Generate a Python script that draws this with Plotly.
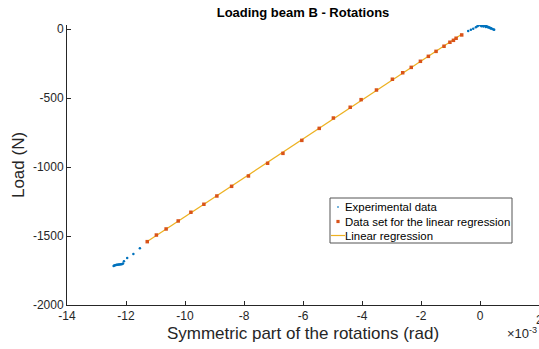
import numpy as np
import plotly.graph_objects as go

# Experimental data (rotation in 1e-3 rad, load in N)
exp_low_x = [-12.42, -12.40, -12.37, -12.34, -12.31, -12.28, -12.25, -12.22, -12.19, -12.16, -12.13, -12.10,
             -12.07, -11.96, -11.75, -11.53]
exp_low_y = [-1718, -1714, -1712, -1710, -1709, -1708, -1707, -1706, -1705, -1704, -1702, -1700,
             -1683, -1659, -1630, -1589]
exp_high_x = [-0.40, -0.31, -0.23, -0.14, -0.09, -0.05, 0.00, 0.03, 0.06, 0.10, 0.14, 0.18, 0.22, 0.26,
              0.30, 0.34, 0.38, 0.42, 0.46, 0.48, 0.05, 0.12, 0.20, 0.28, 0.36]
exp_high_y = [-14, -5, 2, 12, 20, 25, 30, 28, 24, 24, 25, 23, 20, 17, 13, 9, 5, 0, -3, -6, 20, 18, 15, 10, 3]

# Data set used for the linear regression
reg_x = [-11.28, -10.97, -10.64, -10.23, -9.80, -9.36, -8.92, -8.42, -7.85, -7.20, -6.68, -6.04, -5.45,
         -4.97, -4.40, -4.03, -3.51, -2.97, -2.62, -2.33, -2.02, -1.75, -1.49, -1.22, -1.02, -0.90,
         -0.81, -0.62]
reg_y = [-1541, -1493, -1449, -1391, -1328, -1270, -1210, -1140, -1065, -973, -901, -807, -720,
         -645, -567, -512, -442, -364, -317, -278, -234, -198, -162, -125, -96, -82, -67, -43]

x_ticks = [-14, -12, -10, -8, -6, -4, -2, 0, 2]
y_ticks = [-2000, -1500, -1000, -500, 0]
legend_labels = ["Experimental data", "Data set for the linear regression", "Linear regression"]

exp_x = exp_low_x + exp_high_x
exp_y = exp_low_y + exp_high_y

coef = np.polyfit(reg_x, reg_y, 1)
fit_x = [min(reg_x), max(reg_x)]
fit_y = list(np.polyval(coef, fit_x))

FONT = "Liberation Sans, Arial, sans-serif"
AX = "#262626"
BLUE, ORANGE, YELLOW = "#0072BD", "#D95319", "#EDB120"

W, H = 539, 349
L, R, T, B = 67, 0, 25, 44
PW, PH = W - L - R, H - T - B


def px2paper(px, py):
    return (px - L) / PW, (H - B - py) / PH


fig = go.Figure()
fig.add_trace(go.Scatter(x=exp_x, y=exp_y, mode="markers", name=legend_labels[0],
                         marker=dict(color=BLUE, size=2.5), showlegend=False))
fig.add_trace(go.Scatter(x=fit_x, y=fit_y, mode="lines", name=legend_labels[2],
                         line=dict(color=YELLOW, width=1.2), showlegend=False))
fig.add_trace(go.Scatter(x=reg_x, y=reg_y, mode="markers", name=legend_labels[1],
                         marker=dict(color=ORANGE, size=3.5, symbol="square"), showlegend=False))

fig.update_layout(
    width=W, height=H,
    margin=dict(l=L, r=R, t=T, b=B),
    paper_bgcolor="white", plot_bgcolor="white",
    font=dict(family=FONT, color=AX, size=12),
    title=dict(text="<b>Loading beam B - Rotations</b>", x=(L + W) / 2 / W, xanchor="center",
               y=1 - 12 / H, yanchor="middle", font=dict(size=13, color="#000000")),
    xaxis=dict(range=[-14, 2], tickvals=x_ticks, ticktext=[str(v) for v in x_ticks],
               showgrid=False, zeroline=False, showline=True, linecolor=AX, linewidth=1,
               ticks="inside", ticklen=4, tickcolor=AX, mirror=False, automargin=False,
               title=dict(text="Symmetric part of the rotations (rad)", font=dict(size=17), standoff=4),
               tickfont=dict(size=12)),
    yaxis=dict(range=[-2000, 29], tickvals=y_ticks, ticktext=[str(v) for v in y_ticks],
               showgrid=False, zeroline=False, showline=True, linecolor=AX, linewidth=1,
               ticks="inside", ticklen=4, tickcolor=AX, mirror=False, automargin=False,
               title=dict(text="Load (N)", font=dict(size=17), standoff=3),
               tickfont=dict(size=12)),
    showlegend=False,
)

# Tick label "2" at the right edge (plotly drops it because it overflows)
fig.add_annotation(text=str(x_ticks[-1]), xref="x", x=x_ticks[-1], yref="paper", y=px2paper(0, 311)[1],
                   xanchor="center", yanchor="top", showarrow=False, font=dict(size=12, color=AX))
# exponent label
fig.add_annotation(text="×10<sup>-3</sup>", xref="paper", yref="paper", x=1.0, y=px2paper(0, 333)[1],
                   xanchor="right", yanchor="middle", showarrow=False, font=dict(size=13, color=AX))

# Custom legend (matches MATLAB layout)
x0, y0 = px2paper(330, 198)
x1, y1 = px2paper(512, 243)
fig.add_shape(type="rect", xref="paper", yref="paper", x0=x0, y0=y0, x1=x1, y1=y1,
              line=dict(color="#555555", width=1), fillcolor="white", layer="above")
rows = [207, 221.5, 235.5]
for i, (lab, py) in enumerate(zip(legend_labels, rows)):
    tx, ty = px2paper(343, py)
    fig.add_annotation(text=lab, xref="paper", yref="paper", x=tx, y=ty, xanchor="left", yanchor="middle",
                       showarrow=False, font=dict(size=11.4, color="#000000"))
# symbols
d = 0.7
fig.add_shape(type="rect", xref="paper", yref="paper",
              x0=(338 - d - L) / PW, x1=(338 + d - L) / PW,
              y0=(H - B - rows[0] - d) / PH, y1=(H - B - rows[0] + d) / PH,
              line=dict(width=0), fillcolor=BLUE, layer="above")
d = 1.6
fig.add_shape(type="rect", xref="paper", yref="paper",
              x0=(338 - d - L) / PW, x1=(338 + d - L) / PW,
              y0=(H - B - rows[1] - d) / PH, y1=(H - B - rows[1] + d) / PH,
              line=dict(width=0), fillcolor=ORANGE, layer="above")
lx0, ly = px2paper(331, rows[2])
lx1, _ = px2paper(345, rows[2])
fig.add_shape(type="line", xref="paper", yref="paper", x0=lx0, x1=lx1, y0=ly, y1=ly,
              line=dict(color=YELLOW, width=1.2), layer="above")

fig.write_html("out.html")
